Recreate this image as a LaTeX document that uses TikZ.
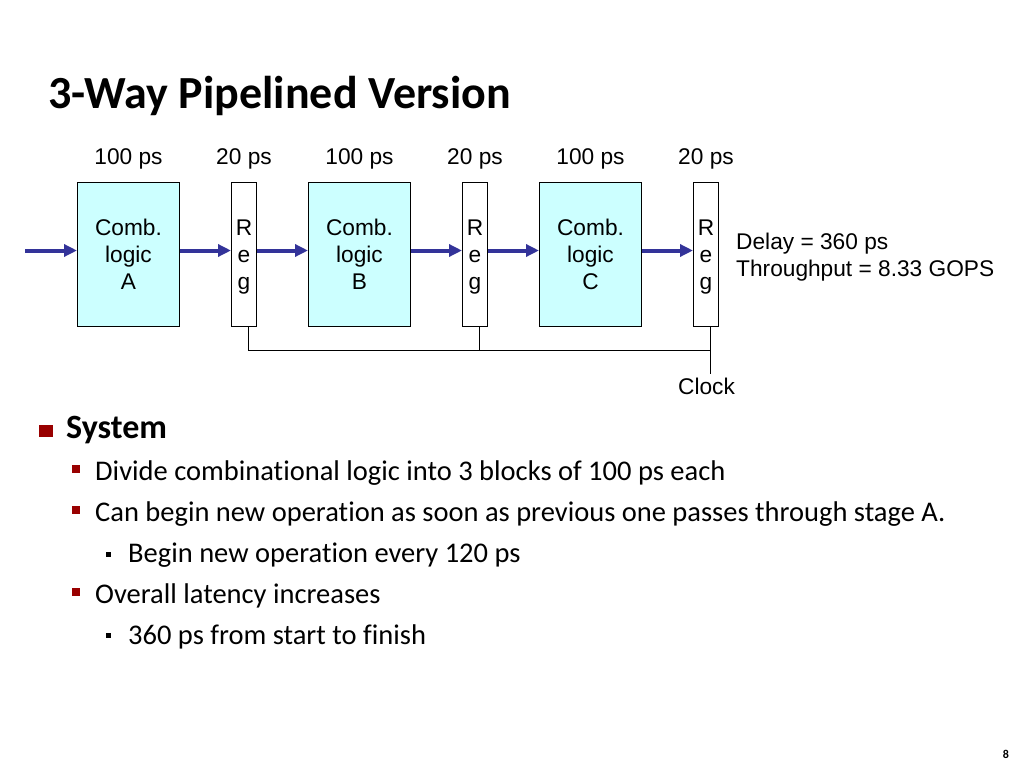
\documentclass[tikz,border=0pt]{standalone}
\usepackage{fontspec}
\setmainfont{Carlito}[Ligatures=NoCommon]
\newfontfamily\arial{Liberation Sans}
\usetikzlibrary{arrows.meta,positioning,calc}
\definecolor{combfill}{RGB}{204,255,255}
\definecolor{flowblue}{RGB}{51,51,153}
\definecolor{bulletred}{RGB}{153,0,0}
\newcommand{\diagfont}{\arial\fontsize{22.7}{27}\selectfont}
\tikzset{
  comb/.style={draw=black, fill=combfill, line width=1pt, minimum width=102pt, minimum height=144pt, inner sep=0pt, align=center, font=\diagfont},
  regbox/.style={draw=black, fill=white, line width=1pt, minimum width=25pt, minimum height=144pt, inner sep=0pt, align=center, font=\diagfont},
  flow/.style={draw=flowblue, line width=4pt, -{Triangle[length=13pt, width=12pt]}},
  wire/.style={line width=1pt},
  delaylbl/.style={inner sep=0pt, font=\diagfont},
  bulletA/.style={fill=bulletred, minimum width=14pt, minimum height=12pt, inner sep=0pt},
  bulletB/.style={fill=bulletred, minimum size=8pt, inner sep=0pt},
  bulletC/.style={fill=black, minimum size=5.5pt, inner sep=0pt},
  itemA/.style={anchor=base west, inner sep=0pt, font=\fontsize{34}{40}\selectfont\bfseries},
  itemB/.style={anchor=base west, inner sep=0pt, font=\fontsize{28.5}{34}\selectfont},
}

\begin{document}
\begin{tikzpicture}[x=1pt, y=1pt]
      \useasboundingbox (0,0) rectangle (1024,-768);

      \node[anchor=base west, inner sep=0pt, font=\fontsize{46}{54}\selectfont\bfseries] (title) at (48,-108) {3-Way Pipelined Version};

      % pipeline
      \node[comb, anchor=north west] (combA) at (77,-182) {Comb.\\logic\\A};
      \node[regbox, right=51pt of combA] (regA) {R\\e\\\smash{g}};
      \node[comb, right=51pt of regA] (combB) {Comb.\\logic\\B};
      \node[regbox, right=51pt of combB] (regB) {R\\e\\\smash{g}};
      \node[comb, right=51pt of regB] (combC) {Comb.\\logic\\C};
      \node[regbox, right=51pt of combC] (regC) {R\\e\\\smash{g}};

      \node[delaylbl, above=13pt of combA] (tA) {100 ps};
      \node[delaylbl, above=13pt of regA] (tRA) {20 ps};
      \node[delaylbl, above=13pt of combB] (tB) {100 ps};
      \node[delaylbl, above=13pt of regB] (tRB) {20 ps};
      \node[delaylbl, above=13pt of combC] (tC) {100 ps};
      \node[delaylbl, above=13pt of regC] (tRC) {20 ps};

      \node[delaylbl, anchor=base west, align=left] (perf) at (736,-276) {Delay = 360 ps\\Throughput = 8.33 GOPS};

      \coordinate (in) at (25,-250.5);
      \draw[flow] (in) -- (combA.west |- in);
      \draw[flow] (combA.east |- in) -- (regA.west |- in);
      \draw[flow] (regA.east |- in) -- (combB.west |- in);
      \draw[flow] (combB.east |- in) -- (regB.west |- in);
      \draw[flow] (regB.east |- in) -- (combC.west |- in);
      \draw[flow] (combC.east |- in) -- (regC.west |- in);

      % clock
      \coordinate (bus) at (0,-350);
      \coordinate (tapA) at ($(regA.south)+(4.5,0)$);
      \coordinate (tapB) at ($(regB.south)+(4.5,0)$);
      \coordinate (tapC) at ($(regC.south)+(4.5,0)$);
      \coordinate (clk) at (tapC |- 0,-374);
      \draw[wire] (tapA) -- (tapA |- bus) -- (tapC |- bus);
      \draw[wire] (tapB) -- (tapB |- bus);
      \draw[wire] (tapC) -- (clk);
      \node[delaylbl, below=4pt of clk, xshift=-4pt] (clock) {Clock};

      % bullets
      \node[bulletA] (b1) at (45.5,-431) {};
      \node[itemA] (sys) at (66,-438) {System};
      \node[bulletB] (b2) at (76,-469) {};
      \node[itemB] (divide) at (95,-480) {Divide combinational logic into 3 blocks of 100 ps each};
      \node[bulletB] (b3) at (76,-510) {};
      \node[itemB] (canbegin) at (95,-521) {Can begin new operation as soon as previous one passes through stage A.};
      \node[bulletC] (b4) at (108.5,-554.5) {};
      \node[itemB] (every) at (128,-562) {Begin new operation every 120 ps};
      \node[bulletB] (b5) at (76,-592) {};
      \node[itemB] (latency) at (95,-603) {Overall latency increases};
      \node[bulletC] (b6) at (108.5,-635.5) {};
      \node[itemB] (finish) at (128,-644) {360 ps from start to finish};

      \node[anchor=base, inner sep=0pt, font=\fontsize{12}{14}\selectfont\bfseries] (page) at (1006,-758) {8};
    \end{tikzpicture}
\end{document}
